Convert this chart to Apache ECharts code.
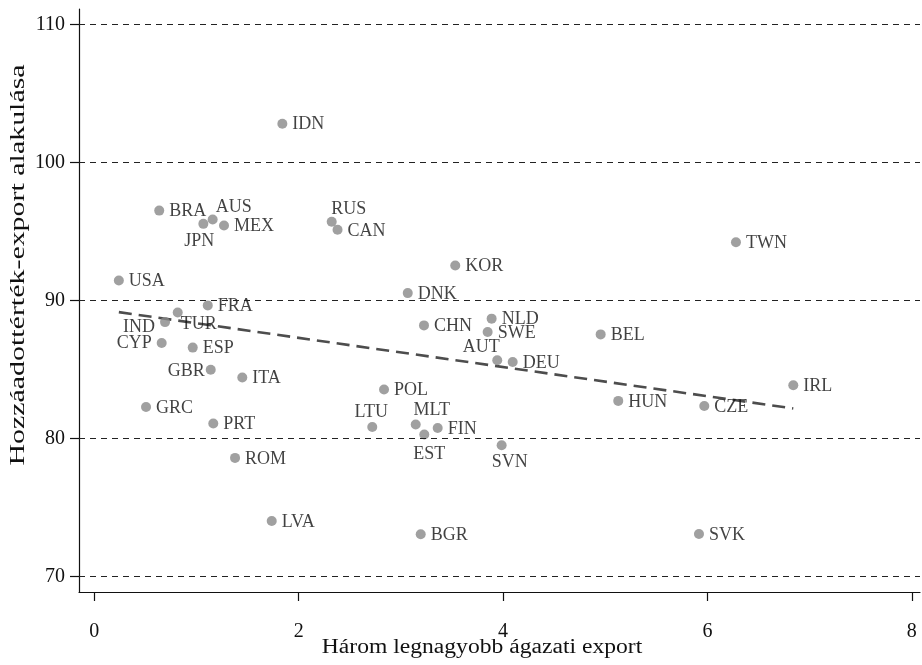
<!DOCTYPE html>
<html>
<head>
<meta charset="utf-8">
<script src="https://cdn.jsdelivr.net/npm/echarts@6/dist/echarts.min.js"></script>
<style>
  html, body { margin: 0; padding: 0; background: #fff; }
  #chart { width: 922px; height: 665px; }
</style>
</head>
<body>
<div id="chart"></div>
<script>
// ---- Data ----
const countries = ['USA','BRA','IDN','AUS','JPN','MEX','RUS','CAN','FRA','TUR','IND','CYP','ESP','GBR','ITA','GRC','PRT','ROM','LVA','KOR','DNK','CHN','NLD','SWE','AUT','DEU','POL','LTU','MLT','EST','FIN','SVN','BGR','TWN','BEL','HUN','CZE','IRL','SVK'];
const xValues = [0.24,0.635,1.84,1.158,1.067,1.269,2.323,2.38,1.11,0.816,0.692,0.659,0.963,1.139,1.448,0.506,1.164,1.377,1.736,3.532,3.067,3.226,3.888,3.849,3.943,4.094,2.835,2.72,3.145,3.229,3.36,3.986,3.194,6.279,4.955,5.127,5.969,6.84,5.917];
const yValues = [91.47,96.53,102.83,95.88,95.57,95.45,95.72,95.14,89.66,89.15,88.45,86.93,86.60,85.00,84.43,82.30,81.10,78.61,74.03,92.55,90.55,88.21,88.70,87.73,85.68,85.56,83.56,80.85,81.03,80.30,80.78,79.53,73.07,94.24,87.56,82.74,82.37,83.87,73.09];
const fitX = [0.24, 6.84];
const fitY = [89.17, 82.19];
const xTicks = [0, 2, 4, 6, 8];
const yTicks = [70, 80, 90, 100, 110];
const xTitle = 'Három legnagyobb ágazati export';
const yTitle = 'Hozzáadottérték-export alakulása';

// ---- Label placement (style, not data): offsets of label centre from dot centre ----
const labelCentre = {
  AUS: [21, -12], JPN: [-4, 17], RUS: [17, -13], TUR: [21, 12],
  AUT: [-16, -13], LTU: [-1, -15], MLT: [16, -14], EST: [5, 20], SVN: [8, 17]
};
const labelLeft = { IND: 5, CYP: 0, GBR: 2 };

const serif = '"Liberation Serif", "DejaVu Serif", serif';
const SYM = 10;

const points = countries.map((c, i) => {
  const item = { name: c, value: [xValues[i], yValues[i]] };
  if (labelCentre[c]) {
    const d = labelCentre[c];
    item.label = { position: [SYM / 2 + d[0], SYM / 2 + d[1]], align: 'center', verticalAlign: 'middle' };
  } else if (labelLeft[c] !== undefined) {
    const gap = c === 'GBR' ? 1 : 5;
    item.label = { position: [-gap, SYM / 2 + labelLeft[c]], align: 'right', verticalAlign: 'middle' };
  } else {
    item.label = { position: [SYM + 5, SYM / 2 + 1], align: 'left', verticalAlign: 'middle' };
  }
  return item;
});

const chart = echarts.init(document.getElementById('chart'), null, { renderer: 'canvas' });
chart.setOption({
  backgroundColor: '#ffffff',
  animation: false,
  grid: { left: 79, right: 2, top: 9, bottom: 73, containLabel: false, outerBoundsMode: 'none' },
  graphic: [
    {
      type: 'text', x: 482, y: 648, scaleX: 1.18, silent: true,
      style: { text: xTitle, fontFamily: serif, fontSize: 20, fill: '#111', align: 'center', verticalAlign: 'middle' }
    },
    {
      type: 'text', x: 18, y: 265, rotation: Math.PI / 2, scaleX: 1.36, silent: true,
      style: { text: yTitle, fontFamily: serif, fontSize: 22, fill: '#111', align: 'center', verticalAlign: 'middle' }
    }
  ],
  xAxis: {
    type: 'value',
    min: -0.15, max: 8.08,
    axisLine: { show: true, onZero: false, lineStyle: { color: '#111', width: 1.2 } },
    axisTick: { show: true, customValues: xTicks, length: 9, lineStyle: { color: '#111', width: 1.2 } },
    axisLabel: { customValues: xTicks, margin: 30, fontFamily: serif, fontSize: 20, color: '#111' },
    splitLine: { show: false }
  },
  yAxis: {
    type: 'value',
    min: 68.89, max: 111.14,
    axisLine: { show: true, onZero: false, lineStyle: { color: '#111', width: 1.2 } },
    axisTick: { show: true, customValues: yTicks, length: 9, lineStyle: { color: '#111', width: 1.2 } },
    axisLabel: { customValues: yTicks, margin: 14, fontFamily: serif, fontSize: 20, color: '#111' },
    splitLine: { show: false }
  },
  series: [
    {
      type: 'line',
      name: 'grid',
      data: [],
      silent: true,
      z: 1,
      markLine: {
        silent: true,
        symbol: ['none', 'none'],
        label: { show: false },
        lineStyle: { type: [6, 5], color: '#222', width: 1.1 },
        data: yTicks.map(v => ({ yAxis: v }))
      }
    },
    {
      type: 'line',
      name: 'fit',
      data: fitX.map((x, i) => [x, fitY[i]]),
      symbol: 'none',
      silent: true,
      z: 2,
      lineStyle: { color: '#4d4d4d', width: 2.6, type: [13, 7] }
    },
    {
      type: 'scatter',
      name: 'countries',
      data: points,
      symbol: 'circle',
      symbolSize: SYM,
      z: 3,
      itemStyle: { color: '#888888' },
      label: {
        show: true,
        formatter: '{b}',
        fontFamily: serif,
        fontSize: 18,
        color: '#111'
      }
    }
  ]
});
</script>
</body>
</html>
